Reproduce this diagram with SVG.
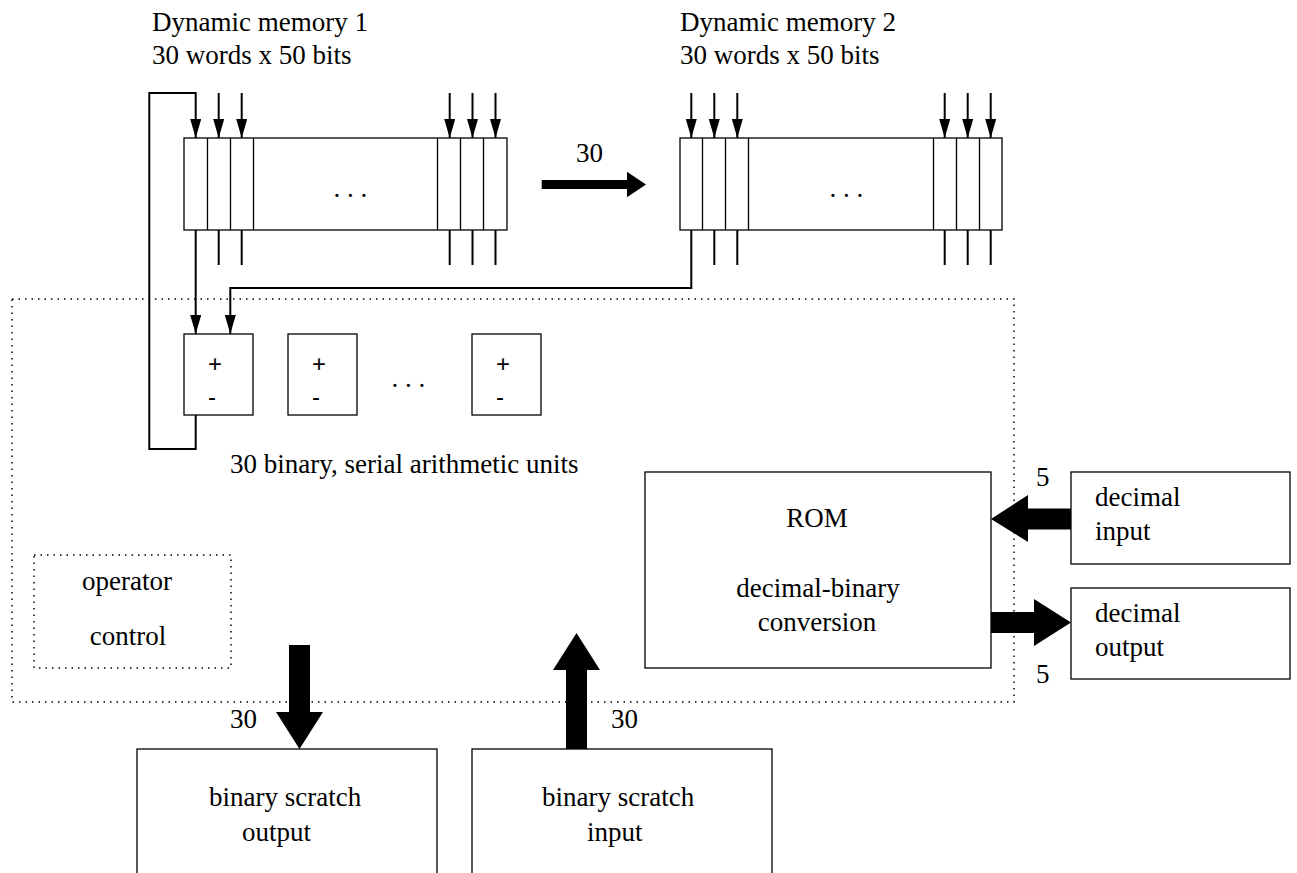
<svg xmlns="http://www.w3.org/2000/svg" width="1297" height="873" viewBox="0 0 1297 873">
<defs>
<style>
.t{font-family:"Liberation Serif","Times New Roman",serif;font-size:27px;fill:#000}
.s{font-family:"Liberation Sans",Arial,sans-serif;font-size:24px;fill:#000}
.box{fill:#fff;stroke:#000;stroke-width:1.3}
.cell{fill:none;stroke:#000;stroke-width:1.3}
.dot{fill:none;stroke:#000;stroke-width:1.5;stroke-dasharray:1.5 5}
.ln{fill:none;stroke:#000;stroke-width:2}
.big{fill:#000;stroke:none}
</style>
<marker id="ah" markerUnits="userSpaceOnUse" markerWidth="19" markerHeight="11" refX="19" refY="5.5" orient="auto">
<path d="M0,0 L19,5.5 L0,11 z" fill="#000"/>
</marker>
</defs>
<rect width="1297" height="873" fill="#fff"/>

<g id="controller-region">
<rect class="dot" x="12" y="299" width="1002" height="403"/>
</g>

<g id="memory1">
<text class="t" x="152" y="31">Dynamic memory 1</text>
<text class="t" x="152" y="64">30 words x 50 bits</text>
<rect class="box" x="184" y="138" width="323" height="92"/>
<path class="cell" d="M207.5,138V230M230.5,138V230M253.5,138V230M437.5,138V230M460.5,138V230M483.5,138V230"/>
<text class="t" x="333.5" y="197">. . .</text>
</g>

<g id="memory2">
<text class="t" x="680" y="31">Dynamic memory 2</text>
<text class="t" x="680" y="64">30 words x 50 bits</text>
<rect class="box" x="680" y="138" width="322" height="92"/>
<path class="cell" d="M702.5,138V230M725.5,138V230M748.5,138V230M933.5,138V230M956.5,138V230M979.5,138V230"/>
<text class="t" x="829.5" y="197">. . .</text>
</g>

<g id="unit1">
<rect class="box" x="184" y="334" width="69" height="81"/>
<text class="s" x="208" y="372">+</text>
<text class="s" x="208" y="405">-</text>
</g>
<g id="unit2">
<rect class="box" x="288" y="334" width="69" height="81"/>
<text class="s" x="312" y="372">+</text>
<text class="s" x="312" y="405">-</text>
</g>
<g id="unit3">
<rect class="box" x="472" y="334" width="69" height="81"/>
<text class="s" x="496" y="372">+</text>
<text class="s" x="496" y="405">-</text>
</g>
<g id="units-label">
<text class="t" x="391.5" y="387">. . .</text>
<text class="t" x="230" y="473">30 binary, serial arithmetic units</text>
</g>

<g id="rom">
<rect class="box" x="645" y="472" width="346" height="196"/>
<text class="t" x="817" y="527" text-anchor="middle">ROM</text>
<text class="t" x="818" y="597" text-anchor="middle">decimal-binary</text>
<text class="t" x="817" y="631" text-anchor="middle">conversion</text>
</g>

<g id="decimal-input">
<rect class="box" x="1071" y="472" width="219" height="92"/>
<text class="t" x="1095" y="506">decimal</text>
<text class="t" x="1095" y="540">input</text>
</g>
<g id="decimal-output">
<rect class="box" x="1071" y="588" width="219" height="91"/>
<text class="t" x="1095" y="622">decimal</text>
<text class="t" x="1095" y="656">output</text>
</g>

<g id="operator-control">
<rect class="dot" x="34" y="555" width="197" height="113"/>
<text class="t" x="127" y="590" text-anchor="middle">operator</text>
<text class="t" x="128" y="645" text-anchor="middle">control</text>
</g>

<g id="scratch-output">
<rect class="box" x="137" y="749" width="300" height="140"/>
<text class="t" x="209" y="806">binary scratch</text>
<text class="t" x="242" y="841">output</text>
</g>
<g id="scratch-input">
<rect class="box" x="472" y="749" width="300" height="140"/>
<text class="t" x="542" y="806">binary scratch</text>
<text class="t" x="587" y="841">input</text>
</g>

<g id="connectors">
<!-- memory 1 top inputs -->
<path class="ln" marker-end="url(#ah)" d="M218.7,93V138"/>
<path class="ln" marker-end="url(#ah)" d="M241.7,93V138"/>
<path class="ln" marker-end="url(#ah)" d="M449.7,93V138"/>
<path class="ln" marker-end="url(#ah)" d="M472.5,93V138"/>
<path class="ln" marker-end="url(#ah)" d="M495.5,93V138"/>
<!-- feedback loop -->
<path class="ln" marker-end="url(#ah)" d="M195.7,415V449H149.3V93H195.7V138"/>
<!-- memory 1 outputs -->
<path class="ln" marker-end="url(#ah)" d="M195.7,230V334"/>
<path class="ln" d="M218.7,230V265M241.7,230V265M449.7,230V265M472.5,230V265M495.5,230V265"/>
<!-- memory 2 top inputs -->
<path class="ln" marker-end="url(#ah)" d="M691.3,93V138"/>
<path class="ln" marker-end="url(#ah)" d="M714.3,93V138"/>
<path class="ln" marker-end="url(#ah)" d="M737.3,93V138"/>
<path class="ln" marker-end="url(#ah)" d="M944.7,93V138"/>
<path class="ln" marker-end="url(#ah)" d="M967.7,93V138"/>
<path class="ln" marker-end="url(#ah)" d="M990.7,93V138"/>
<!-- memory 2 outputs -->
<path class="ln" marker-end="url(#ah)" d="M691.3,230V288H230.3V334"/>
<path class="ln" d="M714.3,230V265M737.3,230V265M944.7,230V265M967.7,230V265M990.7,230V265"/>
<!-- memory transfer -->
<polygon class="big" points="541.7,180 627,180 627,171.7 646,184.5 627,197.3 627,189 541.7,189"/>
<text class="t" x="576" y="162">30</text>
<!-- decimal input arrow -->
<polygon class="big" points="1071,508.5 1028,508.5 1028,495 991,519 1028,542 1028,529.5 1071,529.5"/>
<text class="t" x="1036" y="486">5</text>
<!-- decimal output arrow -->
<polygon class="big" points="991,612 1034,612 1034,599 1071,622.5 1034,646 1034,633 991,633"/>
<text class="t" x="1036" y="683">5</text>
<!-- scratch output arrow -->
<polygon class="big" points="289,645 310,645 310,712 323,712 299.5,749 276,712 289,712"/>
<text class="t" x="230" y="728">30</text>
<!-- scratch input arrow -->
<polygon class="big" points="566,749 587,749 587,670 600,670 576.5,633 553,670 566,670"/>
<text class="t" x="611" y="728">30</text>
</g>
</svg>
